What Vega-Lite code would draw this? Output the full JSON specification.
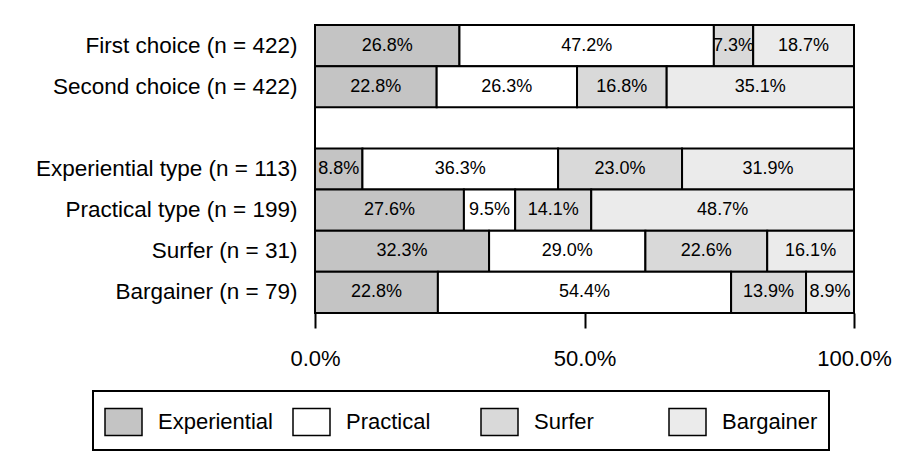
{
  "$schema": "https://vega.github.io/schema/vega-lite/v6.json",
  "autosize": "none",
  "padding": {"left": 315, "top": 25, "right": 48, "bottom": 147},
  "width": 539,
  "height": 288,
  "background": "white",
  "config": {
    "view": {"stroke": "black", "strokeWidth": 2},
    "font": "Liberation Sans",
    "text": {"font": "Liberation Sans"}
  },
  "data": {
    "values": [
      {"g": "First choice (n = 422)", "c": "Experiential", "k": 1, "v": 0.268},
      {"g": "First choice (n = 422)", "c": "Practical", "k": 2, "v": 0.472},
      {"g": "First choice (n = 422)", "c": "Surfer", "k": 3, "v": 0.073},
      {"g": "First choice (n = 422)", "c": "Bargainer", "k": 4, "v": 0.187},
      {"g": "Second choice (n = 422)", "c": "Experiential", "k": 1, "v": 0.228},
      {"g": "Second choice (n = 422)", "c": "Practical", "k": 2, "v": 0.263},
      {"g": "Second choice (n = 422)", "c": "Surfer", "k": 3, "v": 0.168},
      {"g": "Second choice (n = 422)", "c": "Bargainer", "k": 4, "v": 0.351},
      {"g": "Experiential type (n = 113)", "c": "Experiential", "k": 1, "v": 0.088},
      {"g": "Experiential type (n = 113)", "c": "Practical", "k": 2, "v": 0.363},
      {"g": "Experiential type (n = 113)", "c": "Surfer", "k": 3, "v": 0.230},
      {"g": "Experiential type (n = 113)", "c": "Bargainer", "k": 4, "v": 0.319},
      {"g": "Practical type (n = 199)", "c": "Experiential", "k": 1, "v": 0.276},
      {"g": "Practical type (n = 199)", "c": "Practical", "k": 2, "v": 0.095},
      {"g": "Practical type (n = 199)", "c": "Surfer", "k": 3, "v": 0.141},
      {"g": "Practical type (n = 199)", "c": "Bargainer", "k": 4, "v": 0.487},
      {"g": "Surfer (n = 31)", "c": "Experiential", "k": 1, "v": 0.323},
      {"g": "Surfer (n = 31)", "c": "Practical", "k": 2, "v": 0.290},
      {"g": "Surfer (n = 31)", "c": "Surfer", "k": 3, "v": 0.226},
      {"g": "Surfer (n = 31)", "c": "Bargainer", "k": 4, "v": 0.161},
      {"g": "Bargainer (n = 79)", "c": "Experiential", "k": 1, "v": 0.228},
      {"g": "Bargainer (n = 79)", "c": "Practical", "k": 2, "v": 0.544},
      {"g": "Bargainer (n = 79)", "c": "Surfer", "k": 3, "v": 0.139},
      {"g": "Bargainer (n = 79)", "c": "Bargainer", "k": 4, "v": 0.089}
    ]
  },
  "encoding": {
    "y": {
      "field": "g",
      "type": "nominal",
      "scale": {
        "domain": ["First choice (n = 422)", "Second choice (n = 422)", " ", "Experiential type (n = 113)", "Practical type (n = 199)", "Surfer (n = 31)", "Bargainer (n = 79)"],
        "paddingInner": 0,
        "paddingOuter": 0
      },
      "axis": {
        "title": null,
        "ticks": false,
        "domain": false,
        "labelFontSize": 22.5,
        "labelPadding": 18,
        "labelColor": "black",
        "labelLimit": 400,
        "labelFont": "Liberation Sans"
      }
    },
    "x": {
      "field": "v",
      "type": "quantitative",
      "stack": "normalize",
      "scale": {"domain": [0, 1]},
      "axis": {
        "title": null,
        "values": [0, 0.5, 1],
        "labelExpr": "format(datum.value, '.1%')",
        "grid": false,
        "domain": false,
        "tickSize": 15,
        "tickWidth": 2,
        "tickColor": "black",
        "labelPadding": 20,
        "labelFontSize": 22,
        "labelColor": "black",
        "labelFlush": false,
        "labelFont": "Liberation Sans"
      }
    },
    "order": {"field": "k", "type": "quantitative"}
  },
  "layer": [
    {
      "mark": {"type": "bar", "stroke": "black", "strokeWidth": 2, "opacity": 1},
      "encoding": {
        "color": {
          "field": "c",
          "type": "nominal",
          "scale": {
            "domain": ["Experiential", "Practical", "Surfer", "Bargainer"],
            "range": ["#c4c4c4", "#ffffff", "#d9d9d9", "#ebebeb"]
          },
          "legend": {
            "title": null,
            "orient": "none",
            "legendX": -222,
            "legendY": 366,
            "direction": "horizontal",
            "columns": 4,
            "gridAlign": "all",
            "columnPadding": 17,
            "padding": 11,
            "strokeColor": "black",
            "labelFontSize": 22,
            "labelFont": "Liberation Sans",
            "labelColor": "black",
            "labelOffset": 15,
            "labelLimit": 300,
            "symbolType": "M-1,-0.73L1,-0.73L1,0.73L-1,0.73Z",
            "symbolSize": 1369,
            "symbolStrokeColor": "black",
            "symbolStrokeWidth": 1.5,
            "symbolOpacity": 1,
            "encode": {"legend": {"update": {"strokeWidth": {"value": 2}}}}
          }
        }
      }
    },
    {
      "mark": {"type": "text", "fontSize": 18, "color": "black", "font": "Liberation Sans"},
      "encoding": {
        "x": {"field": "v", "type": "quantitative", "stack": "normalize", "bandPosition": 0.5},
        "detail": {"field": "c"},
        "text": {"field": "v", "type": "quantitative", "format": ".1%"}
      }
    }
  ]
}
